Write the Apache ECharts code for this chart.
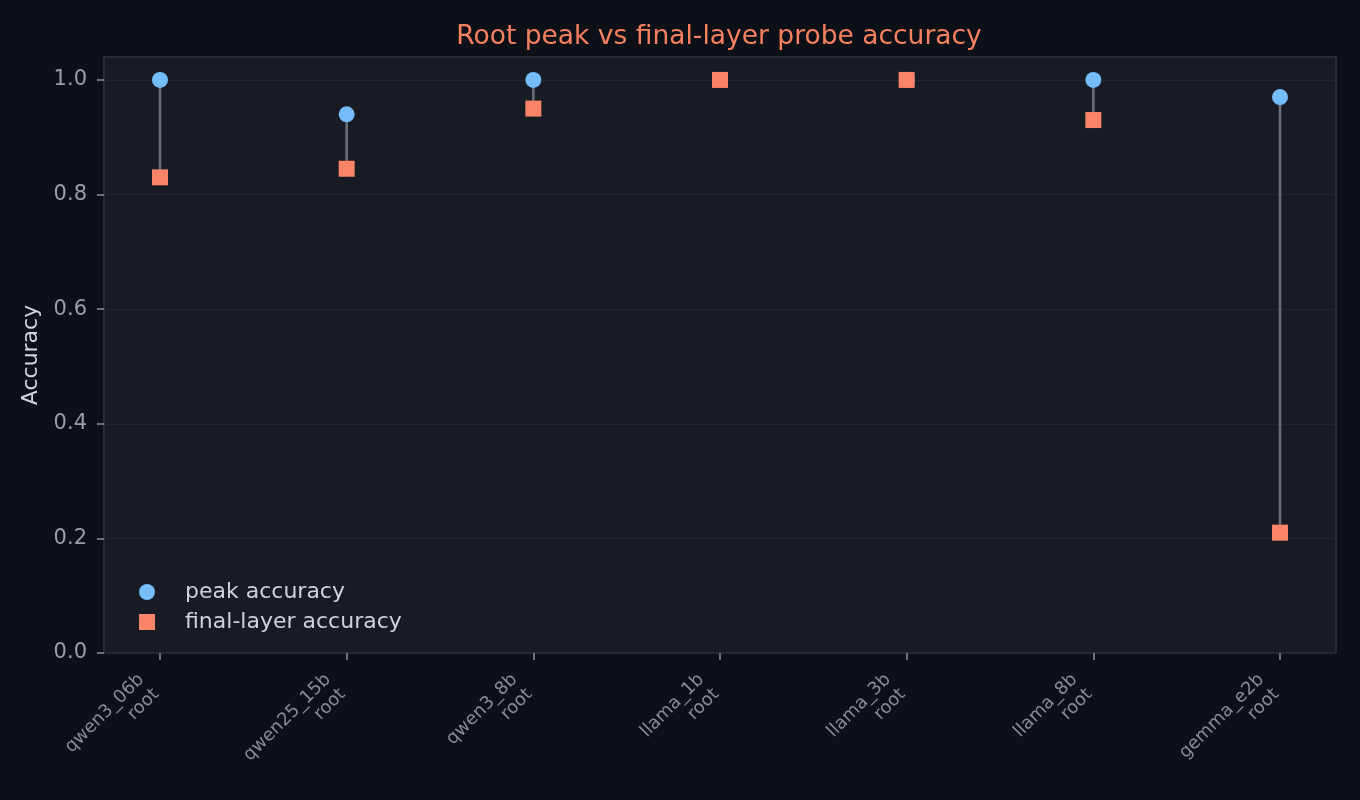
<!DOCTYPE html>
<html>
<head>
<meta charset="utf-8">
<script src="https://cdn.jsdelivr.net/npm/echarts@6/dist/echarts.min.js"></script>
<style>
html,body{margin:0;padding:0;background:#0d1017;}
#chart{width:1360px;height:800px;}
</style>
</head>
<body>
<div id="chart"></div>
<script>
const categories = ['qwen3_06b\nroot','qwen25_15b\nroot','qwen3_8b\nroot','llama_1b\nroot','llama_3b\nroot','llama_8b\nroot','gemma_e2b\nroot'];
const peakAccuracy = [1.0, 0.94, 1.0, 1.0, 1.0, 1.0, 0.97];
const finalAccuracy = [0.83, 0.845, 0.95, 1.0, 1.0, 0.93, 0.21];
const yTicks = [0, 0.2, 0.4, 0.6, 0.8, 1.0];

const idx = categories.map((_, i) => i);
const chart = echarts.init(document.getElementById('chart'));
const font = 'DejaVu Sans';
chart.setOption({
  backgroundColor: '#0d1017',
  animation: false,
  textStyle: {fontFamily: font},
  title: {
    text: 'Root peak vs final-layer probe accuracy',
    left: 714, top: 19, textAlign: 'center',
    textStyle: {color: '#f4805f', fontSize: 26.5, fontWeight: 'normal', fontFamily: font}
  },
  grid: {left: 104, right: 24, top: 57, bottom: 147, show: true, backgroundColor: '#181b23', borderColor: '#31353d', borderWidth: 1.5},
  legend: {
    left: 134, top: 576, orient: 'vertical', itemGap: 8,
    itemWidth: 16, itemHeight: 16,
    textStyle: {color: '#cfd3d9', fontSize: 22, fontFamily: font, padding: [0,0,0,25]},
    data: [{name: 'peak accuracy', icon: 'circle'}, {name: 'final-layer accuracy', icon: 'rect'}]
  },
  xAxis: {
    type: 'value', min: -0.3, max: 6.3,
    splitLine: {show: false},
    axisLine: {show: false, onZero: false},
    axisTick: {show: true, customValues: idx, length: 7, lineStyle: {color: '#8b9099', width: 1.5}},
    axisLabel: {
      customValues: idx, rotate: 45, color: '#878c94', fontSize: 18, fontFamily: font,
      align: 'right', lineHeight: 21, margin: 20, padding: [0, 16, 0, 0],
      formatter: v => categories[Math.round(v)]
    }
  },
  yAxis: {
    type: 'value', min: 0, max: 1.04,
    name: 'Accuracy', nameLocation: 'middle', nameGap: 58,
    nameTextStyle: {color: '#d3d6db', fontSize: 22, fontFamily: font},
    splitLine: {show: true, lineStyle: {color: '#22262e', width: 1}},
    axisLine: {show: false, onZero: false},
    axisTick: {show: true, customValues: yTicks, length: 7, lineStyle: {color: '#8b9099', width: 1.5}},
    axisLabel: {customValues: yTicks, color: '#9a9fa7', fontSize: 21, fontFamily: font, margin: 17, formatter: v => v.toFixed(1)}
  },
  series: [
    {
      type: 'custom', name: 'stem', silent: true, z: 1,
      data: idx.map(i => [i, finalAccuracy[i], peakAccuracy[i]]),
      renderItem: (params, api) => {
        const a = api.coord([api.value(0), api.value(1)]);
        const b = api.coord([api.value(0), api.value(2)]);
        return {type: 'line', shape: {x1: a[0], y1: a[1], x2: b[0], y2: b[1]}, style: {stroke: '#6c7179', lineWidth: 2.5}};
      }
    },
    {
      type: 'scatter', name: 'peak accuracy', symbol: 'circle', symbolSize: 16, z: 3,
      itemStyle: {color: '#74bdfa', opacity: 1},
      data: idx.map(i => [i, peakAccuracy[i]])
    },
    {
      type: 'scatter', name: 'final-layer accuracy', symbol: 'rect', symbolSize: 16, z: 4,
      itemStyle: {color: '#fa8467', opacity: 1},
      data: idx.map(i => [i, finalAccuracy[i]])
    }
  ]
});
</script>
</body>
</html>
